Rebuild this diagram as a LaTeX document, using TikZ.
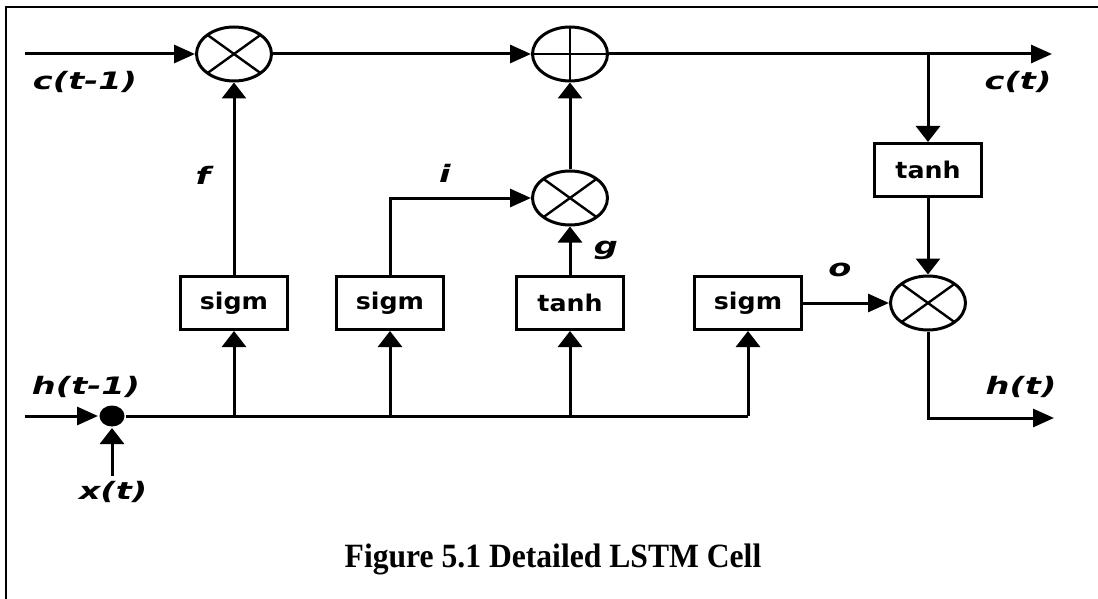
\documentclass[tikz,border=0pt]{standalone}
\usepackage{fontspec}
\setmainfont{Liberation Serif}
\newfontfamily\cellfont{DejaVu Sans}[
    BoldFont={DejaVu Sans Bold},
    BoldItalicFont={DejaVu Sans Bold Oblique},
]
\usepackage{graphicx}
\usepackage{tikz}
\usetikzlibrary{
    shapes.geometric,
    arrows.meta,
    positioning,
}

% text of the gate boxes and of the signal names
\newcommand{\gatetext}[1]{\scalebox{1.1}[1]{\fontsize{23}{27}\selectfont\cellfont\bfseries #1}}
\newcommand{\signame}[1]{\scalebox{1.4}[1]{\fontsize{24}{28}\selectfont\cellfont\bfseries\itshape #1}}

\tikzset{
    gate/.style={draw, rectangle, minimum width=107pt, minimum height=53pt, inner sep=0pt},
    mult/.style={draw, ellipse, minimum width=75pt, minimum height=54pt, inner sep=0pt,
        path picture={\draw[line width=2.4pt]
            (path picture bounding box.north west) -- (path picture bounding box.south east)
            (path picture bounding box.north east) -- (path picture bounding box.south west);}},
    addop/.style={draw, ellipse, minimum width=75pt, minimum height=54pt, inner sep=0pt,
        path picture={\draw[line width=2.4pt]
            (path picture bounding box.north) -- (path picture bounding box.south)
            (path picture bounding box.west) -- (path picture bounding box.east);}},
    joint/.style={ellipse, fill, minimum width=25pt, minimum height=21pt, inner sep=0pt},
    harrow/.style={-{Triangle[length=21pt,width=18pt]}},
    varrow/.style={-{Triangle[length=16pt,width=24pt]}},
    signal/.style={inner sep=0pt},
}

\begin{document}
\begin{tikzpicture}[x=1pt, y=-1pt, line width=3pt]
        \useasboundingbox (0,0) rectangle (1098,599);
        \draw[line width=2.8pt] (6,599) -- (6,7) -- (1098,7);

        % cell state path
        \coordinate (cin) at (25,54);
        \node[mult] (fmul) at (234,54) {};
        \node[addop] (cadd) at (570,54) {};
        \coordinate (csplit) at (928,54);
        \coordinate (cout) at (1052,54);
        \node[gate] (tanhc) at (928,170) {\gatetext{tanh}};
        \node[mult] (omul) at (928,303) {};

        % gates
        \node[gate] (fgate) at (234,303) {\gatetext{sigm}};
        \node[gate] (igate) at (390,303) {\gatetext{sigm}};
        \node[gate] (ggate) at (570,303) {\gatetext{tanh}};
        \node[gate] (ogate) at (748,303) {\gatetext{sigm}};
        \node[mult] (imul) at (570,198) {};

        % inputs
        \coordinate (hin) at (25,416);
        \node[joint] (join) at (112,416) {};
        \coordinate (xin) at (112,476);
        \coordinate (busend) at (748,416);
        \coordinate (hout) at (1054,418);

        \draw[harrow] (cin) -- (fmul);
        \draw[harrow] (fmul) -- (cadd);
        \draw[harrow] (cadd) -- (cout);
        \draw[varrow] (csplit) -- (tanhc);
        \draw[varrow] (tanhc) -- (omul);
        \draw[varrow] (fgate) -- (fmul);
        \draw[harrow] (igate.north) |- (imul);
        \draw[varrow] (ggate) -- (imul);
        \draw[varrow] (imul) -- (cadd);
        \draw[harrow] (ogate) -- (omul);
        \draw[harrow] (omul) |- (hout);

        \draw[harrow] (hin) -- (join);
        \draw[varrow] (xin) -- (join);
        \draw (join) -- (busend);
        \draw[varrow] (busend) -- (ogate);
        \draw[varrow] (fgate |- busend) -- (fgate);
        \draw[varrow] (igate |- busend) -- (igate);
        \draw[varrow] (ggate |- busend) -- (ggate);

        % signal names
        \node[signal] (cprev) at (85,82) {\signame{c(t-1)}};
        \node[signal] (cnext) at (1018,82) {\signame{c(t)}};
        \node[signal] (fname) at (203,175) {\signame{f}};
        \node[signal] (iname) at (445,173) {\signame{i}};
        \node[signal] (gname) at (606,250) {\signame{g}};
        \node[signal] (oname) at (840,270) {\signame{o}};
        \node[signal] (hprev) at (86,387) {\signame{h(t-1)}};
        \node[signal] (xname) at (113,492) {\signame{x(t)}};
        \node[signal] (hnext) at (1021,387) {\signame{h(t)}};

        \node[anchor=base, font=\fontsize{34}{40}\selectfont\bfseries] (caption) at (553,567)
            {\scalebox{0.93}[1]{Figure 5.1 Detailed LSTM Cell}};
    \end{tikzpicture}
\end{document}
